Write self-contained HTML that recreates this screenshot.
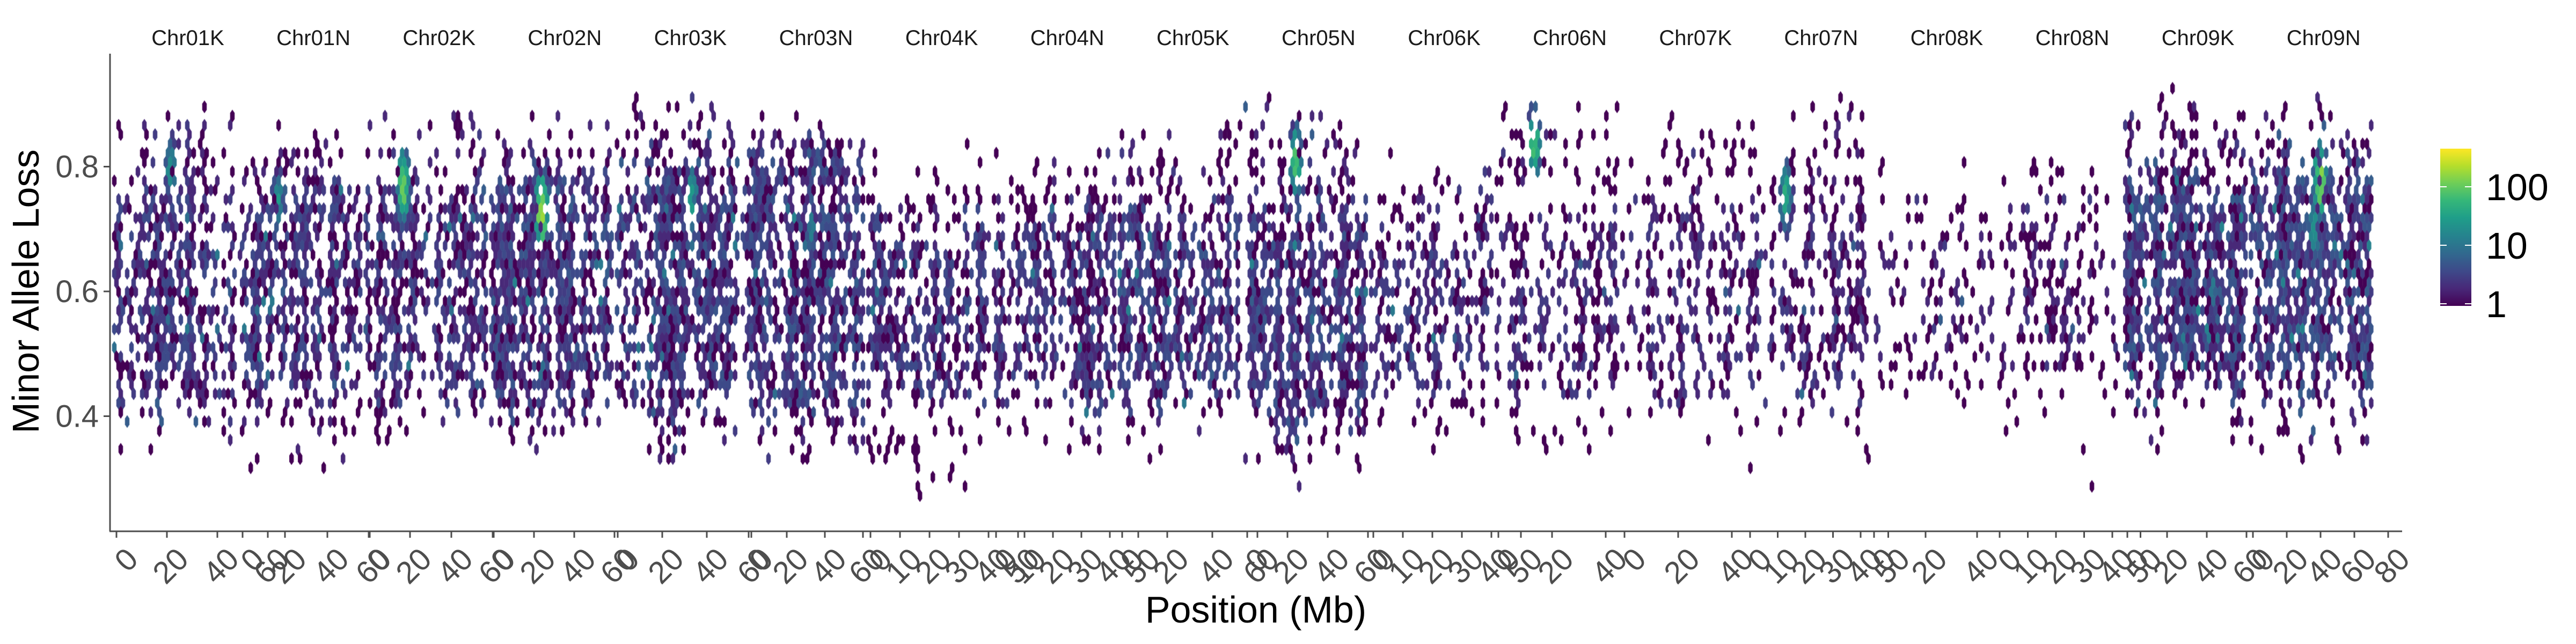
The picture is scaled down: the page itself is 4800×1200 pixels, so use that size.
<!DOCTYPE html>
<html><head><meta charset="utf-8">
<style>
html,body{margin:0;padding:0;background:#fff;}
#wrap{position:relative;width:4800px;height:1200px;overflow:hidden;font-family:"Liberation Sans",sans-serif;}
canvas,svg{position:absolute;left:0;top:0;}
</style></head>
<body>
<div id="wrap">
<canvas id="cv" width="4800" height="1200"></canvas>
<svg id="sv" width="4800" height="1200">
  <defs>
    <linearGradient id="vir" x1="0" y1="1" x2="0" y2="0">
      <stop offset="0" stop-color="#440154"/><stop offset="0.11" stop-color="#482878"/>
      <stop offset="0.22" stop-color="#3e4989"/><stop offset="0.33" stop-color="#31688e"/>
      <stop offset="0.44" stop-color="#26828e"/><stop offset="0.56" stop-color="#1f9e89"/>
      <stop offset="0.67" stop-color="#35b779"/><stop offset="0.78" stop-color="#6ece58"/>
      <stop offset="0.89" stop-color="#b5de2b"/><stop offset="1" stop-color="#fde725"/>
    </linearGradient>
  </defs>
  <g id="axes">
    <line x1="205" y1="100" x2="205" y2="990" stroke="#4d4d4d" stroke-width="3"/>
    <line x1="204" y1="990" x2="4476" y2="990" stroke="#4d4d4d" stroke-width="3"/>
  </g>
  <g id="yticks"></g>
  <g id="xticks"></g>
  <g id="strips"></g>
  <text x="72" y="543" font-size="70" fill="#000" text-anchor="middle" transform="rotate(-90 72 543)">Minor Allele Loss</text>
  <text x="2340" y="1160" font-size="70" fill="#000" text-anchor="middle">Position (Mb)</text>
  <g>
    <rect x="4547" y="277" width="58" height="293" fill="url(#vir)"/>
    <g id="legticks"></g>
  </g>
</svg>
</div>
<script>
// ---- data ----
const facetNames = ["Chr01K","Chr01N","Chr02K","Chr02N","Chr03K","Chr03N","Chr04K","Chr04N","Chr05K","Chr05N","Chr06K","Chr06N","Chr07K","Chr07N","Chr08K","Chr08N","Chr09K","Chr09N"];
const facetTickStep = [20,20,20,20,20,20,10,10,20,20,10,20,20,10,20,10,20,20];
const facetTickMax  = [60,60,60,60,60,60,50,50,60,60,50,40,40,50,40,50,60,80];
const facetTickMin  = [0,0,0,0,0,0,0,0,0,0,0,0,0,0,0,0,0,0];
// density blocks: facet, fx0, fx1, y0, y1, level
const blkFacet = [0,0,0, 1,1,1, 2,2,2, 3,3,3, 4,4, 5,5, 6,6,6, 7,7, 8,8, 9,9,9, 10,10, 11,11,11, 12,12, 13,13,13, 14,14, 15,15,15, 16,16,16, 17,17,17];
const blkFx0 = [0,0,0.4, 0,0,0.3, 0,0,0.3, 0,0,0.3, 0,0, 0,0, 0,0,0.4, 0,0, 0,0, 0,0,0.3, 0,0, 0,0,0.2, 0,0, 0,0,0.5, 0,0, 0,0,0.55, 0,0,0.4, 0,0,0.4];
const blkFx1 = [1,1,0.8, 1,1,0.7, 1,1,0.6, 1,1,0.6, 1,1, 1,1, 1,1,0.7, 1,1, 1,1, 1,1,0.6, 1,1, 1,1,0.5, 1,1, 1,1,1, 1,1, 1,1,0.8, 1,1,1, 1,1,1];
const blkY0 = [0.44,0.38,0.7, 0.45,0.35,0.7, 0.44,0.38,0.7, 0.42,0.37,0.68, 0.42,0.36, 0.42,0.36, 0.44,0.32,0.3, 0.43,0.37, 0.44,0.37, 0.40,0.33,0.3, 0.45,0.37, 0.45,0.38,0.72, 0.45,0.40, 0.45,0.33,0.45, 0.48,0.42, 0.48,0.40,0.3, 0.45,0.38,0.8, 0.45,0.36,0.78];
const blkY1 = [0.74,0.86,0.84, 0.76,0.84,0.8, 0.74,0.86,0.84, 0.78,0.85,0.8, 0.80,0.9, 0.82,0.86, 0.70,0.80,0.36, 0.72,0.80, 0.72,0.85, 0.74,0.88,0.4, 0.72,0.80, 0.70,0.88,0.88, 0.72,0.85, 0.72,0.85,0.88, 0.70,0.78, 0.72,0.80,0.34, 0.78,0.90,0.9, 0.80,0.88,0.88];
const blkLvl = [2.2,0.8,1.2, 2.2,0.8,1.2, 2.2,0.8,1.2, 2.6,0.9,1.2, 2.6,0.9, 2.6,0.9, 2.2,0.6,0.6, 2.2,0.7, 2.6,0.8, 2.6,0.9,0.7, 2.0,0.7, 1.6,0.6,1.0, 1.5,0.6, 1.6,0.5,0.8, 1.1,0.5, 1.1,0.5,0.5, 3.0,0.9,0.8, 3.0,0.9,0.8];
// hotspots: facet, fx, y, count
const hotFacet = [0,1,2,3,4,5,9,11,13,16,17,17];
const hotFx    = [0.45,0.3,0.3,0.4,0.6,0.55,0.4,0.3,0.3,0.7,0.55,0.5];
const hotY     = [0.80,0.75,0.77,0.73,0.75,0.70,0.81,0.84,0.75,0.60,0.78,0.70];
const hotCount = [30,30,150,250,40,15,90,100,60,15,200,40];
const legendTicks = [1,10,100];
const yTicks = [0.4,0.6,0.8];

// ---- layout ----
const X0 = 213, FW = 234.2;
const facetOrigin = [217,452,687,920,1151,1395,1622,1856,2091,2324,2559,2792,3027,3261,3492,3726,3964,4198];
const facetScale = [4.7,3.95,3.85,3.75,4.15,3.55,5.5,5.3,4.2,3.75,5.5,5.0,5.0,5.15,4.8,5.25,3.7,3.15];
function yPx(v){return 543-(v-0.6)*1162.5;}
function logScale(c){return 566-Math.log10(c)*109;}
const NS="http://www.w3.org/2000/svg";
function mk(tag,attrs,parent){const e=document.createElementNS(NS,tag);for(const k in attrs)e.setAttribute(k,attrs[k]);parent.appendChild(e);return e;}

const yg=document.getElementById('yticks');
yTicks.forEach(v=>{
  const y=yPx(v);
  const l=mk('line',{x1:193,y1:y,x2:205,y2:y,stroke:'#4d4d4d','stroke-width':3},yg);
  
  
  const t=mk('text',{x:184,y:y+20,'font-size':58,fill:'#4d4d4d','text-anchor':'end'},yg);
  t.textContent=v.toFixed(1);
  
  
});
const sg=document.getElementById('strips'), xg=document.getElementById('xticks');
facetNames.forEach((n,i)=>{
  const t=mk('text',{x:350+i*234.1,y:84,'font-size':40,fill:'#1a1a1a','text-anchor':'middle'},sg);
  t.textContent=n;
  
  
  for(let v=facetTickMin[i];v<=facetTickMax[i];v+=facetTickStep[i]){
    const x=facetOrigin[i]+v*facetScale[i];
    if(x>4470)continue;
    const l=mk('line',{x1:x,y1:990,x2:x,y2:1002,stroke:'#4d4d4d','stroke-width':3},xg);
    
    
    const tx=x+14, ty=1016;
    const tl=mk('text',{x:tx,y:ty,'font-size':58,fill:'#4d4d4d','text-anchor':'end',dy:'0.72em',transform:`rotate(-45 ${tx} ${ty})`},xg);
    tl.textContent=String(v);
    
    
  }
});
const lg=document.getElementById('legticks');
legendTicks.forEach(c=>{
  const y=logScale(c);
  mk('line',{x1:4547,y1:y,x2:4559,y2:y,stroke:'#fff','stroke-width':2},lg);
  mk('line',{x1:4593,y1:y,x2:4605,y2:y,stroke:'#fff','stroke-width':2},lg);
  const t=mk('text',{x:4632,y:y+25,'font-size':70,fill:'#000'},lg);
  t.textContent=String(c);
  
  
});

// ---- hexes ----
const VIR=["#440154","#482878","#3e4989","#31688e","#26828e","#1f9e89","#35b779","#6ece58","#b5de2b","#fde725"];
function vir(t){t=Math.max(0,Math.min(1,t));const f=t*(VIR.length-1),i=Math.floor(f);if(i>=VIR.length-1)return VIR[VIR.length-1];
  const a=VIR[i],b=VIR[i+1],r=f-i;const p=s=>[1,3,5].map(k=>parseInt(s.substr(k,2),16));const A=p(a),B=p(b);
  return 'rgb('+A.map((v,k)=>Math.round(v+(B[k]-v)*r)).join(',')+')';}
function tex(c,r,s){let h=(c*374761393+r*668265263+s*2147483647)|0;h=(h^(h>>>13))*1274126177|0;h=h^(h>>>16);return ((h>>>0)%10000)/10000;}
const cv=document.getElementById('cv'),ctx=cv.getContext('2d');
const HW=8, HH=23, RS=17.25;
const MAXC=450;
function hex(x,y){ctx.beginPath();ctx.moveTo(x,y-HH/2-0.5);ctx.lineTo(x+HW/2+0.2,y-HH/4);ctx.lineTo(x+HW/2+0.2,y+HH/4);ctx.lineTo(x,y+HH/2+0.5);ctx.lineTo(x-HW/2-0.2,y+HH/4);ctx.lineTo(x-HW/2-0.2,y-HH/4);ctx.closePath();ctx.fill();}
const nRows=Math.floor((990-100)/RS);
for(let f=0;f<facetNames.length;f++){
  const fx0=X0+f*FW, fx1=fx0+FW-7;
  for(let r=0;r<nRows;r++){
    const y=130+r*RS; const v=0.6-(y-543)/1162.5;
    const off=(r%2)?HW/2:0;
    for(let x=fx0+off;x<fx1;x+=HW){
      const fx=(x-fx0)/FW;
      const c=Math.floor((x-X0)/HW);
      const colF=0.35+1.0*tex(c,0,7);
      const jLo=(tex(c,1,8)-0.5)*0.09, jHi=(tex(c,2,9)-0.5)*0.09;
      let lvl=0;
      for(let b=0;b<blkFacet.length;b++){
        if(blkFacet[b]!==f)continue;
        if(fx>=blkFx0[b]&&fx<=blkFx1[b]&&v>=blkY0[b]+jLo&&v<=blkY1[b]+jHi)lvl=Math.max(lvl,blkLvl[b]);
      }
      let hot=0;
      for(let h=0;h<hotFacet.length;h++){
        if(hotFacet[h]!==f)continue;
        const dx=(fx-hotFx[h])*FW/9, dy=(v-hotY[h])/0.045;
        const d=dx*dx+dy*dy; if(d<2.5)hot=Math.max(hot,hotCount[h]*Math.exp(-d*1.5));
      }
      if(lvl===0&&hot<2)continue;
      const p=tex(c,r,1);
      const cov=Math.min(0.85,0.3*lvl*colF);
      let count=0;
      if(hot>=3 && tex(c,r,5)<0.75) count=hot*(0.5+0.6*tex(c,r,3));
      else if(p<cov){count=1+Math.floor(tex(c,r,2)*lvl*1.7);if(tex(c,r,4)>0.95)count*=3;}
      if(count<1)continue;
      ctx.fillStyle=vir(Math.log10(count)/Math.log10(MAXC));
      hex(x,y);
    }
  }
}
</script>
</body></html>
